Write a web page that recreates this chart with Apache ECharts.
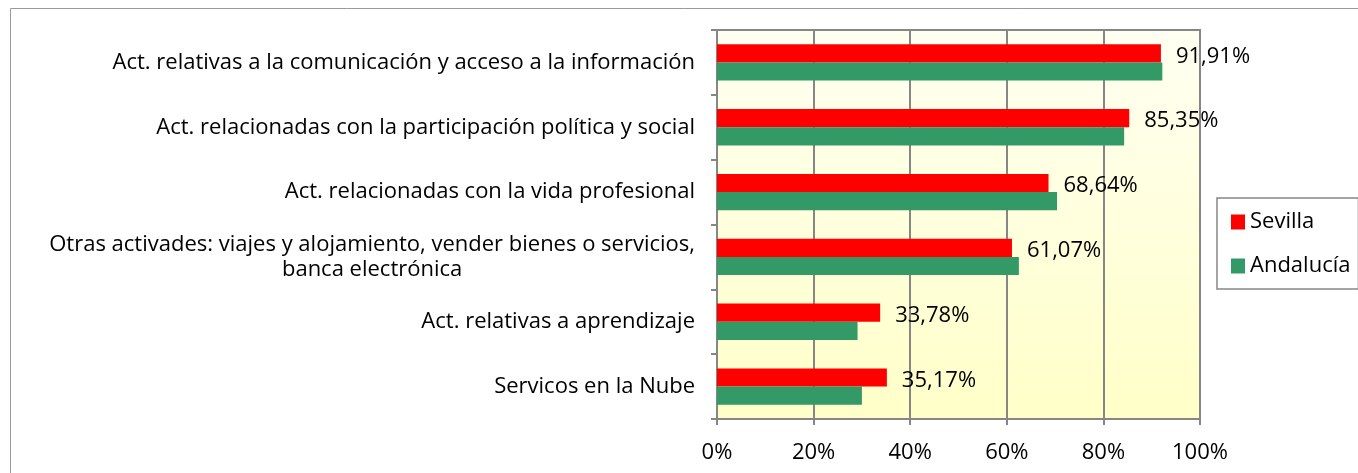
<!DOCTYPE html>
<html><head><meta charset="utf-8">
<script src="https://cdn.jsdelivr.net/npm/echarts@6/dist/echarts.min.js"></script>
<style>html,body{margin:0;padding:0;background:#fff;}#c{width:1358px;height:473px;}</style>
</head><body><div id="c"></div>
<script>
const categories = [
  'Act. relativas a la comunicación y acceso a la información',
  'Act. relacionadas con la participación política y social',
  'Act. relacionadas con la vida profesional',
  'Otras activades: viajes y alojamiento, vender bienes o servicios,\nbanca electrónica',
  'Act. relativas a aprendizaje',
  'Servicos en la Nube'
];
const sevilla = [91.91, 85.35, 68.64, 61.07, 33.78, 35.17];
const andalucia = [92.2, 84.3, 70.4, 62.5, 29.1, 30.0];
const xTicks = [0, 20, 40, 60, 80, 100];

const FONT = 'Open Sans';
const FS = 22;
const GRAY = '#868686';
const chart = echarts.init(document.getElementById('c'));

chart.setOption({
  animation: false,
  grid: { left: 717, right: 158, top: 30, bottom: 54, show: true,
    backgroundColor: new echarts.graphic.LinearGradient(0,0,0,1,[{offset:0,color:'#FFFFF2'},{offset:1,color:'#FFFFC8'}]),
    borderColor: GRAY, borderWidth: 2 },
  legend: { orient: 'vertical', left: 1217, top: 198, padding: [13, 8, 12, 14], itemGap: 22,
    itemWidth: 14, itemHeight: 15, borderColor: GRAY, borderWidth: 1.5,
    textStyle: { fontFamily: FONT, fontSize: FS, color: '#000', lineHeight: 22 },
    data: [{name:'Sevilla', icon:'rect'},{name:'Andalucía', icon:'rect'}] },
  xAxis: { type: 'value', min: xTicks[0], max: xTicks[xTicks.length - 1], interval: xTicks[1] - xTicks[0],
    axisLine: { show: true, lineStyle: { color: GRAY, width: 2 } },
    axisTick: { show: true, length: 6, lineStyle: { color: GRAY, width: 2 } },
    splitLine: { show: true, lineStyle: { color: GRAY, width: 2 } },
    axisLabel: { fontFamily: FONT, fontSize: FS, color: '#000', margin: 23, formatter: v => v + '%' } },
  yAxis: { type: 'category', inverse: true, data: categories,
    axisLine: { show: true, lineStyle: { color: GRAY, width: 2 } },
    axisTick: { show: true, length: 6, lineStyle: { color: GRAY, width: 2 } },
    axisLabel: { fontFamily: FONT, fontSize: FS, color: '#000', margin: 22, lineHeight: 25,
      formatter: v => v.split('\n').map(l => '{c|' + l + '}').join('\n'),
      rich: { c: { align: 'center', fontFamily: FONT, fontSize: FS, color: '#000', lineHeight: 25 } } } },
  series: [
    { name: 'Sevilla', type: 'bar', data: sevilla, barGap: '0%', barCategoryGap: '44%',
      itemStyle: { color: '#FF0000' },
      label: { show: true, position: 'right', distance: 15, offset: [0, 3], fontFamily: FONT, fontSize: FS, color: '#000',
        formatter: p => p.value.toFixed(2).replace('.', ',') + '%' } },
    { name: 'Andalucía', type: 'bar', data: andalucia, itemStyle: { color: '#339966' } }
  ],
  graphic: [
    { type: 'rect', silent: true, shape: { x: 10.5, y: 8.5, width: 1400, height: 500 }, style: { fill: 'none', stroke: '#9a9a9a', lineWidth: 1 } }
  ]
});
</script></body></html>
